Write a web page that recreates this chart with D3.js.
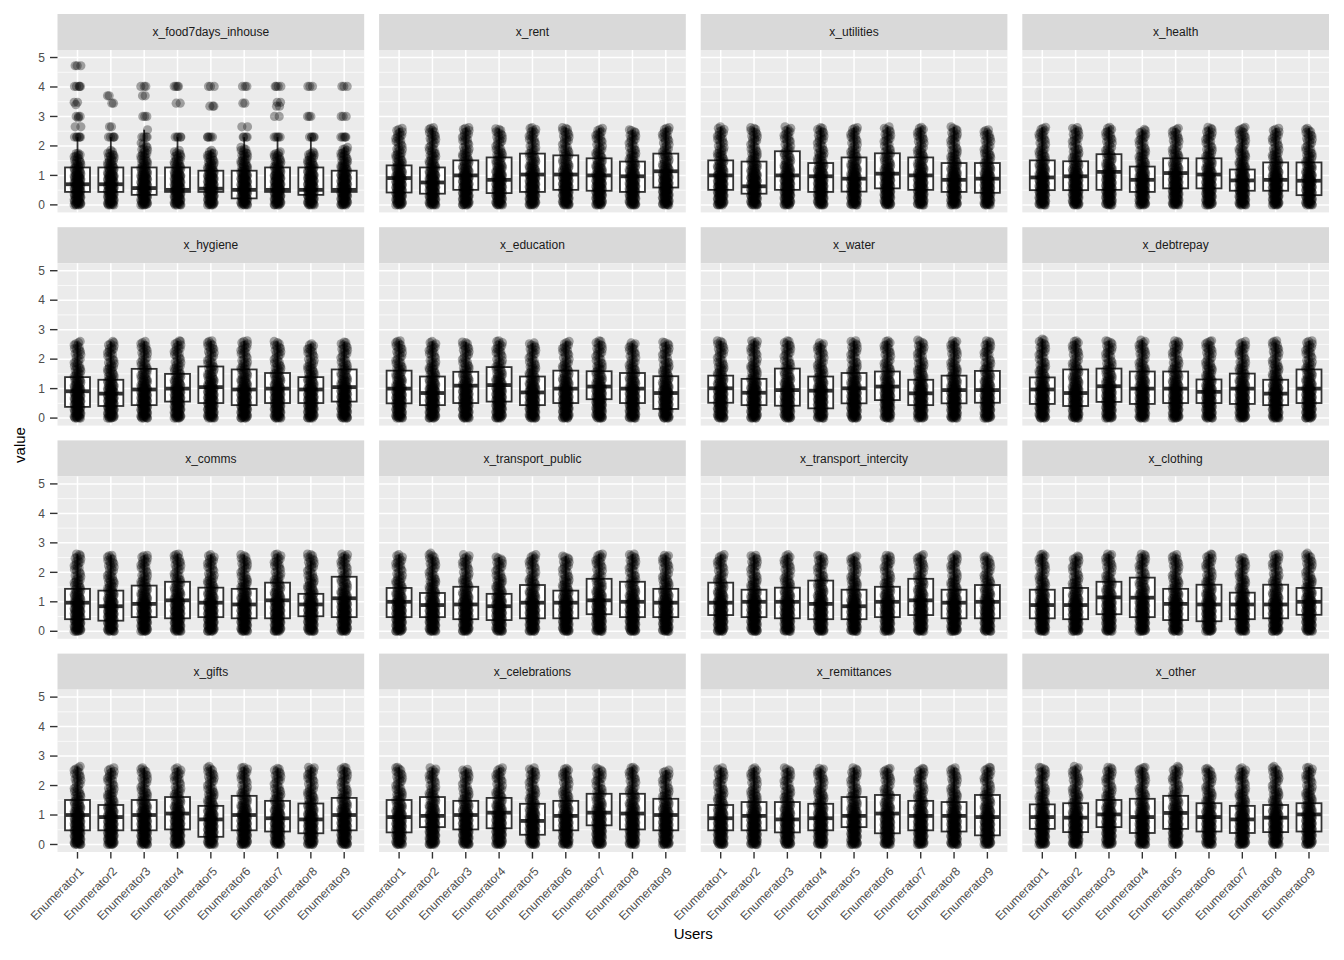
<!DOCTYPE html>
<html><head><meta charset="utf-8">
<script src="https://cdn.jsdelivr.net/npm/d3@7"></script>
<style>
body{margin:0;background:#fff}
svg{display:block}
text{font-family:"Liberation Sans",Arial,Helvetica,sans-serif}
</style>
</head><body>
<svg id="chart" width="1344" height="960"></svg>
<script>
// ---------------- DATA ----------------
const enumerators = ["Enumerator1","Enumerator2","Enumerator3","Enumerator4","Enumerator5","Enumerator6","Enumerator7","Enumerator8","Enumerator9"];
const facets = ["x_food7days_inhouse","x_rent","x_utilities","x_health","x_hygiene","x_education","x_water","x_debtrepay","x_comms","x_transport_public","x_transport_intercity","x_clothing","x_gifts","x_celebrations","x_remittances","x_other"];
const yTicks = [0,1,2,3,4,5];

// lower quartiles [facet][enumerator]
const q1Values = [
  [0.44,0.44,0.34,0.44,0.44,0.22,0.44,0.34,0.44],
  [0.42,0.38,0.51,0.40,0.44,0.51,0.48,0.44,0.59],
  [0.51,0.38,0.51,0.44,0.45,0.56,0.51,0.44,0.41],
  [0.50,0.50,0.51,0.44,0.56,0.56,0.48,0.48,0.33],
  [0.38,0.41,0.44,0.56,0.51,0.44,0.51,0.51,0.56],
  [0.50,0.44,0.51,0.56,0.44,0.51,0.64,0.51,0.31],
  [0.52,0.44,0.42,0.33,0.50,0.61,0.44,0.50,0.52],
  [0.48,0.41,0.55,0.48,0.51,0.51,0.48,0.44,0.51],
  [0.41,0.36,0.48,0.44,0.48,0.44,0.44,0.51,0.48],
  [0.48,0.48,0.41,0.38,0.44,0.44,0.58,0.48,0.48],
  [0.55,0.48,0.44,0.41,0.41,0.48,0.55,0.44,0.44],
  [0.44,0.41,0.58,0.48,0.38,0.34,0.41,0.44,0.56],
  [0.48,0.48,0.48,0.51,0.26,0.48,0.44,0.38,0.48],
  [0.41,0.59,0.51,0.55,0.33,0.48,0.65,0.51,0.48],
  [0.48,0.48,0.41,0.48,0.59,0.38,0.48,0.44,0.31],
  [0.53,0.42,0.59,0.39,0.53,0.44,0.39,0.42,0.44]
];
// medians
const medianValues = [
  [0.70,0.70,0.57,0.51,0.55,0.51,0.51,0.51,0.51],
  [0.91,0.76,1.00,0.85,1.03,1.03,1.00,0.97,1.14],
  [1.00,0.63,1.00,0.97,0.89,1.06,1.00,0.85,0.89],
  [0.93,0.97,1.12,0.85,1.08,1.03,0.83,0.85,0.82],
  [0.91,0.83,0.97,1.00,1.05,0.97,1.00,0.97,1.05],
  [1.00,0.85,1.10,1.12,0.87,1.00,1.07,1.00,0.85],
  [1.01,0.86,0.95,0.93,1.01,1.07,0.84,0.95,0.95],
  [0.97,0.85,1.08,1.00,1.00,0.89,1.00,0.83,1.00],
  [0.97,0.85,0.93,1.05,0.97,0.91,1.05,0.91,1.12],
  [1.00,0.89,0.91,0.85,0.97,0.97,1.05,1.00,0.97],
  [0.97,1.00,1.00,0.93,0.85,1.00,1.05,0.97,1.00],
  [0.89,0.89,1.15,1.14,0.93,0.91,0.91,0.91,1.00],
  [1.00,0.93,1.00,1.05,0.85,1.00,0.89,0.85,1.00],
  [0.93,0.97,1.00,1.08,0.80,0.97,1.08,1.05,1.00],
  [0.89,0.97,0.85,0.89,0.97,1.05,0.97,0.97,0.93],
  [0.93,0.91,1.02,0.93,1.07,0.93,0.85,0.91,1.02]
];
// upper quartiles
const q3Values = [
  [1.27,1.27,1.27,1.27,1.16,1.16,1.27,1.27,1.16],
  [1.34,1.27,1.51,1.61,1.74,1.68,1.58,1.47,1.74],
  [1.51,1.47,1.82,1.42,1.61,1.75,1.61,1.42,1.42],
  [1.51,1.48,1.72,1.30,1.58,1.58,1.20,1.44,1.44],
  [1.39,1.30,1.67,1.50,1.75,1.65,1.53,1.39,1.65],
  [1.61,1.41,1.57,1.73,1.41,1.61,1.59,1.53,1.42],
  [1.44,1.33,1.68,1.41,1.53,1.58,1.30,1.44,1.60],
  [1.38,1.65,1.68,1.58,1.58,1.31,1.51,1.30,1.65],
  [1.44,1.38,1.55,1.68,1.48,1.44,1.65,1.27,1.85],
  [1.47,1.30,1.51,1.27,1.57,1.38,1.78,1.68,1.44],
  [1.65,1.41,1.48,1.72,1.41,1.51,1.78,1.41,1.57],
  [1.41,1.47,1.68,1.82,1.44,1.58,1.31,1.58,1.47],
  [1.51,1.34,1.51,1.61,1.31,1.65,1.48,1.39,1.58],
  [1.51,1.61,1.48,1.58,1.38,1.48,1.72,1.72,1.55],
  [1.34,1.44,1.44,1.38,1.61,1.68,1.48,1.44,1.68],
  [1.36,1.40,1.51,1.55,1.65,1.40,1.31,1.34,1.40]
];
// highest value of the dense point cloud for each box
const cloudTop = [
  [1.75,1.85,2.10,1.85,1.85,1.95,1.80,1.80,1.95],
  [2.60,2.62,2.62,2.58,2.62,2.62,2.60,2.55,2.62],
  [2.65,2.62,2.65,2.62,2.62,2.65,2.63,2.65,2.55],
  [2.63,2.62,2.63,2.56,2.60,2.63,2.63,2.60,2.60],
  [2.60,2.60,2.60,2.62,2.62,2.62,2.60,2.52,2.58],
  [2.62,2.60,2.58,2.62,2.55,2.60,2.62,2.55,2.58],
  [2.62,2.62,2.62,2.55,2.62,2.62,2.65,2.62,2.62],
  [2.68,2.62,2.62,2.65,2.62,2.62,2.60,2.62,2.62],
  [2.62,2.58,2.58,2.62,2.60,2.60,2.62,2.62,2.62],
  [2.60,2.65,2.60,2.52,2.60,2.55,2.62,2.62,2.58],
  [2.60,2.58,2.60,2.58,2.55,2.58,2.60,2.60,2.55],
  [2.62,2.55,2.62,2.62,2.60,2.62,2.50,2.62,2.65],
  [2.65,2.60,2.60,2.60,2.65,2.62,2.58,2.62,2.62],
  [2.62,2.60,2.55,2.60,2.60,2.58,2.60,2.62,2.52],
  [2.60,2.60,2.60,2.58,2.60,2.58,2.58,2.60,2.62],
  [2.62,2.65,2.62,2.62,2.65,2.58,2.60,2.65,2.62]
];
// observed values making up the dense cloud (each box holds those up to its cloudTop)
const cloudValues = [0,0,0,0.01,0.02,0.03,0.04,0.05,0.06,0.07,0.09,0.10,0.12,0.13,0.15,0.17,0.18,0.20,0.21,0.22,0.24,0.26,0.28,0.30,0.30,0.30,0.32,0.33,0.35,0.36,0.38,0.40,0.41,0.42,0.44,0.45,0.47,0.48,0.48,0.50,0.51,0.52,0.54,0.55,0.57,0.58,0.60,0.60,0.61,0.62,0.64,0.65,0.67,0.68,0.70,0.70,0.71,0.72,0.74,0.75,0.77,0.78,0.80,0.81,0.82,0.84,0.85,0.87,0.88,0.90,0.90,0.92,0.93,0.95,0.96,0.98,1.00,1.00,1.00,1.02,1.04,1.06,1.08,1.10,1.12,1.13,1.15,1.18,1.20,1.22,1.24,1.26,1.28,1.30,1.32,1.34,1.37,1.40,1.42,1.45,1.48,1.50,1.52,1.56,1.60,1.63,1.65,1.68,1.70,1.74,1.76,1.80,1.85,1.88,1.90,1.95,2.00,2.05,2.10,2.15,2.18,2.22,2.25,2.30,2.34,2.36,2.40,2.45,2.48,2.52,2.56,2.60,2.65,2.70];
// extra high values in x_food7days_inhouse per enumerator
const foodHighValues = [
  [4.72,4.72,4.72,4.02,4.02,4.02,4.02,4.02,3.48,3.48,3.40,3.00,3.00,3.00,2.95,2.65,2.65,2.30,2.30,2.30,2.30,2.30,2.30],
  [3.70,3.70,3.45,3.45,2.65,2.65,2.30,2.30,2.30,2.30,2.30],
  [4.02,4.02,4.02,3.70,3.70,3.00,3.00,3.00,2.55,2.30,2.30,2.30,2.30],
  [4.02,4.02,4.02,4.02,3.45,3.45,2.30,2.30,2.30,2.30,2.30],
  [4.02,4.02,4.02,3.35,3.35,3.35,2.30,2.30,2.30,2.30,2.30],
  [4.02,4.02,4.02,3.45,3.45,2.65,2.65,2.30,2.30,2.30,2.30],
  [4.02,4.02,4.02,4.02,3.48,3.48,3.35,3.35,3.00,3.00,2.30,2.30,2.30,2.30,2.30],
  [4.02,4.02,4.02,3.00,3.00,3.00,2.30,2.30,2.30,2.30,2.30],
  [4.02,4.02,4.02,3.00,3.00,3.00,2.30,2.30,2.30,2.30,2.30]
];
// horizontal jitter pattern (fraction of one category)
const jitterPattern = [-0.10,0.05,-0.03,0.09,-0.07,0.02,0.08,-0.05,0.00,-0.09,0.06,-0.01,0.10,-0.04,0.03];

// ---------------- LAYOUT ----------------
const svg = d3.select("#chart");
const nCols = 4, nRows = 4;
const plotLeft = 57.5, plotRight = 1329, plotTop = 14, plotBottom = 852;
const gapX = 14.9, gapY = 14.8, stripH = 36;
const cellW = (plotRight - plotLeft - gapX*(nCols-1)) / nCols;
const cellH = (plotBottom - plotTop - gapY*(nRows-1)) / nRows;
const panelH = cellH - stripH;

const x = d3.scaleLinear().domain([0.4, enumerators.length + 0.6]).range([0, cellW]);
const y = d3.scaleLinear().domain([-0.255, 5.255]).range([panelH, 0]);
const minorTicks = d3.range(0, 5).map(v => v + 0.5);

facets.forEach((name, f) => {
  const col = f % nCols, row = Math.floor(f / nCols);
  const gx = plotLeft + col*(cellW + gapX);
  const gy = plotTop + row*(cellH + gapY);
  const g = svg.append("g").attr("transform", `translate(${gx},${gy})`);

  // strip
  g.append("rect").attr("width", cellW).attr("height", stripH).attr("fill", "#D9D9D9");
  g.append("text").attr("x", cellW/2).attr("y", stripH/2 + 4.2)
    .attr("text-anchor", "middle").attr("font-size", 12).attr("fill", "#1A1A1A").text(name);

  const p = g.append("g").attr("transform", `translate(0,${stripH})`);
  p.append("rect").attr("width", cellW).attr("height", panelH).attr("fill", "#EBEBEB");
  p.selectAll(".minor").data(minorTicks).join("line")
    .attr("x1", 0).attr("x2", cellW).attr("y1", d => y(d)).attr("y2", d => y(d))
    .attr("stroke", "#fff").attr("stroke-width", 0.75);
  p.selectAll(".major").data(yTicks).join("line")
    .attr("x1", 0).attr("x2", cellW).attr("y1", d => y(d)).attr("y2", d => y(d))
    .attr("stroke", "#fff").attr("stroke-width", 1.5);
  p.selectAll(".vmajor").data(enumerators).join("line")
    .attr("x1", (d,i) => x(i+1)).attr("x2", (d,i) => x(i+1)).attr("y1", 0).attr("y2", panelH)
    .attr("stroke", "#fff").attr("stroke-width", 1.5);

  // boxes
  const boxW = x(1.375) - x(0.625);
  const boxes = enumerators.map((e, i) => {
    const pts = cloudValues.filter(v => v <= cloudTop[f][i]);
    if (pts[pts.length-1] < cloudTop[f][i]) pts.push(cloudTop[f][i]);
    const all = f === 0 ? pts.concat(foodHighValues[i]) : pts;
    const a = q1Values[f][i], m = medianValues[f][i], b = q3Values[f][i];
    const iqr = b - a;
    const inside = all.filter(v => v >= a - 1.5*iqr && v <= b + 1.5*iqr);
    return {i, q1: a, med: m, q3: b, lo: d3.min(inside), hi: d3.max(inside), pts: all};
  });

  const bg = p.selectAll(".box").data(boxes).join("g");
  bg.append("line").attr("x1", d => x(d.i+1)).attr("x2", d => x(d.i+1))
    .attr("y1", d => y(d.q3)).attr("y2", d => y(d.hi)).attr("stroke", "#333").attr("stroke-width", 1.8);
  bg.append("line").attr("x1", d => x(d.i+1)).attr("x2", d => x(d.i+1))
    .attr("y1", d => y(d.q1)).attr("y2", d => y(d.lo)).attr("stroke", "#333").attr("stroke-width", 1.8);
  bg.append("rect").attr("x", d => x(d.i+1) - boxW/2).attr("width", boxW)
    .attr("y", d => y(d.q3)).attr("height", d => y(d.q1) - y(d.q3))
    .attr("fill", "#fff").attr("stroke", "#333").attr("stroke-width", 1.8);
  bg.append("line").attr("x1", d => x(d.i+1) - boxW/2).attr("x2", d => x(d.i+1) + boxW/2)
    .attr("y1", d => y(d.med)).attr("y2", d => y(d.med)).attr("stroke", "#333").attr("stroke-width", 3.8);

  // jittered points
  const pointData = [];
  boxes.forEach(b => b.pts.forEach((v, j) => {
    pointData.push({v, cx: b.i + 1 + jitterPattern[(j*7 + b.i*4 + f) % jitterPattern.length]});
  }));
  p.append("g").selectAll("circle").data(pointData).join("circle")
    .attr("cx", d => x(d.cx)).attr("cy", d => y(d.v)).attr("r", 4.6)
    .attr("fill", "#000").attr("fill-opacity", 0.33);

  // y axis on first column
  if (col === 0) {
    const ya = p.append("g");
    ya.selectAll("line").data(yTicks).join("line")
      .attr("x1", -7.5).attr("x2", 0).attr("y1", d => y(d)).attr("y2", d => y(d))
      .attr("stroke", "#333").attr("stroke-width", 1.4);
    ya.selectAll("text").data(yTicks).join("text")
      .attr("x", -12.5).attr("y", d => y(d) + 4.2).attr("text-anchor", "end")
      .attr("font-size", 12).attr("fill", "#4D4D4D").text(d => d);
  }
  // x axis on bottom row
  if (row === nRows - 1) {
    const xa = p.append("g").attr("transform", `translate(0,${panelH})`);
    xa.selectAll("line").data(enumerators).join("line")
      .attr("x1", (d,i) => x(i+1)).attr("x2", (d,i) => x(i+1)).attr("y1", 0).attr("y2", 6.6)
      .attr("stroke", "#333").attr("stroke-width", 1.4);
    xa.selectAll("text").data(enumerators).join("text")
      .attr("transform", (d,i) => `translate(${x(i+1) + 7},${20}) rotate(-45)`)
      .attr("text-anchor", "end").attr("font-size", 12).attr("fill", "#4D4D4D").text(d => d);
  }
});

// axis titles
svg.append("text").attr("x", (plotLeft + plotRight)/2).attr("y", 939).attr("text-anchor", "middle")
  .attr("font-size", 15).attr("fill", "#000").text("Users");
svg.append("text").attr("transform", `translate(25,445) rotate(-90)`).attr("text-anchor", "middle")
  .attr("font-size", 15).attr("fill", "#000").text("value");
</script>
</body></html>
